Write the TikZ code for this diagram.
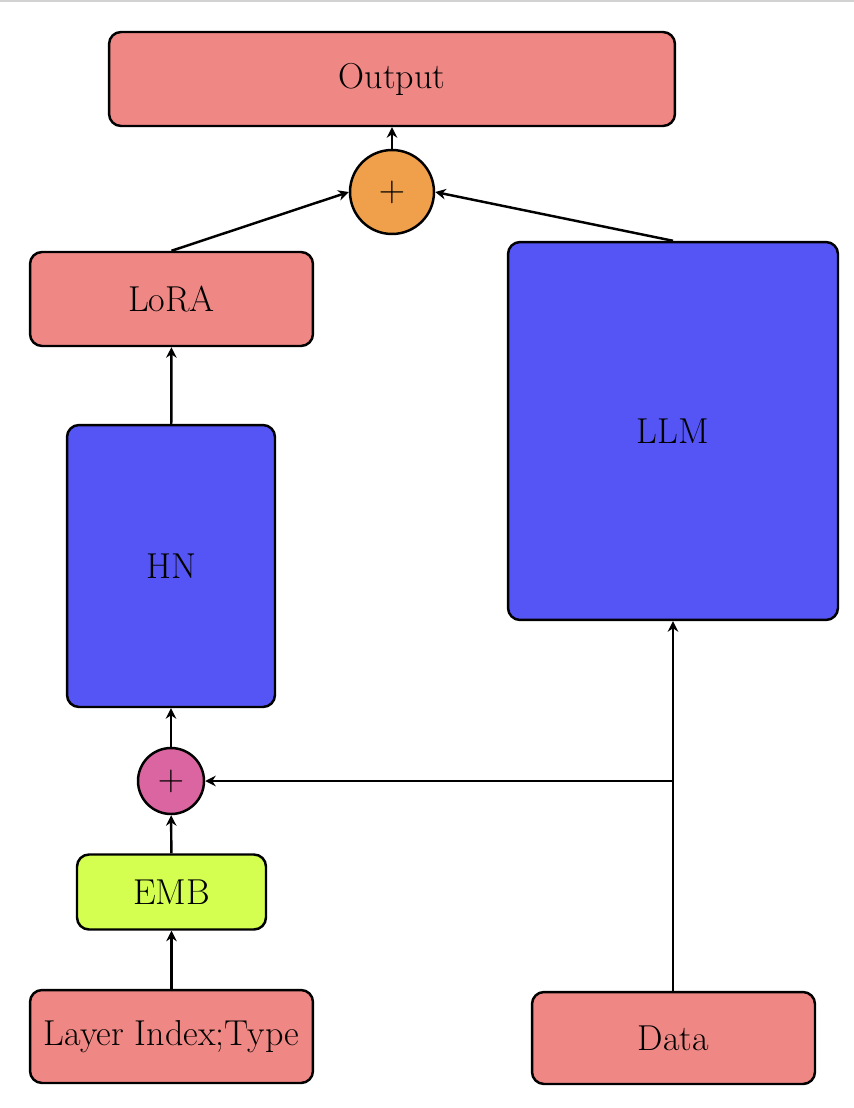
\documentclass[tikz,border=0pt]{standalone}
\usetikzlibrary{arrows.meta}
\definecolor{salmon}{HTML}{EF8885}
\definecolor{blu}{HTML}{5555F6}
\definecolor{orng}{HTML}{F0A04A}
\definecolor{mag}{HTML}{DB65A0}
\definecolor{lime}{HTML}{D4FF50}
\begin{document}
\begin{tikzpicture}[x=0.02cm,y=-0.02cm,
  box/.style={draw=black,line width=1.4pt,rounded corners=0.24cm,inner sep=0pt,font=\fontsize{20.5}{24}\selectfont},
  plus/.style={draw=black,circle,line width=1.4pt,inner sep=0pt,font=\fontsize{20.5}{24}\selectfont},
  arr/.style={-{Stealth[length=6pt,width=6pt,inset=2pt]},line width=1.4pt}]
\useasboundingbox (0,0) rectangle (854,1108);
\fill[gray!35] (0,0) rectangle (854,2);
\node[box,fill=salmon,minimum width=11.32cm,minimum height=1.88cm] (out) at (392,79) {Output};
\node[plus,fill=orng,minimum size=1.68cm] (p1) at (392,192) {$+$};
\node[box,fill=salmon,minimum width=5.66cm,minimum height=1.88cm] (lora) at (171.5,299) {LoRA};
\node[box,fill=blu,minimum width=6.6cm,minimum height=7.56cm] (llm) at (673,431) {LLM};
\node[box,fill=blu,minimum width=4.16cm,minimum height=5.64cm] (hn) at (171,566) {HN};
\node[plus,fill=mag,minimum size=1.32cm] (p2) at (171,781) {$+$};
\node[box,fill=lime,minimum width=3.78cm,minimum height=1.5cm] (emb) at (171.5,892) {EMB};
\node[box,fill=salmon,minimum width=5.66cm,minimum height=1.86cm] (lay) at (171.5,1036.5) {Layer Index;Type};
\node[box,fill=salmon,minimum width=5.66cm,minimum height=1.84cm] (data) at (673.5,1038) {Data};
\coordinate (br) at (673,781);
\draw[arr] (p1) -- (out);
\draw[arr] (lora.north) -- (p1.west);
\draw[arr] (llm.north) -- (p1.east);
\draw[arr] (hn) -- (lora);
\draw[arr] (p2) -- (hn);
\draw[arr] (emb) -- (p2);
\draw[arr] (lay) -- (emb);
\draw[arr] (data.north -| llm.south) -- (llm.south);
\draw[arr] (br) -- (p2);
\end{tikzpicture}
\end{document}
